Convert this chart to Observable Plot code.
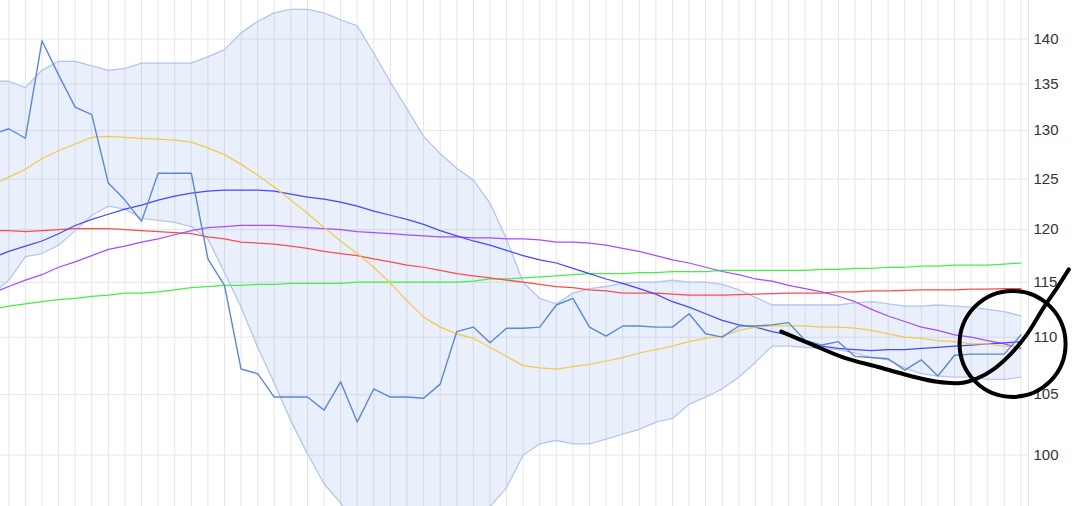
<!DOCTYPE html>
<html>
<head>
<meta charset="utf-8">
<script src="https://cdn.jsdelivr.net/npm/d3@7"></script>
<script src="https://cdn.jsdelivr.net/npm/@observablehq/plot@0.6"></script>
<style>
  html, body { margin: 0; padding: 0; background: #fff; }
  #chart svg { display: block; }
</style>
</head>
<body>
<div id="chart"></div>
<script>
// Trading days (index -1 is partly cut off at the left edge)
const days = d3.range(-1, 62);
const gridDays = d3.range(0, 62);
const yTicks = [100, 105, 110, 115, 120, 125, 130, 135, 140];

const price = [129.6, 130.2, 129.2, 139.8, 136.0, 132.5, 131.7, 124.6, 122.9, 120.8, 125.6, 125.6, 125.6, 117.2, 114.7, 107.2, 106.8, 104.8, 104.8, 104.8, 103.7, 106.1, 102.7, 105.5, 104.8, 104.8, 104.7, 105.9, 110.5, 110.9, 109.5, 110.8, 110.8, 110.9, 112.9, 113.5, 110.9, 110.1, 111.0, 111.0, 110.9, 110.9, 112.1, 110.3, 110.0, 111.0, 111.0, 111.1, 111.3, 109.7, 109.3, 109.6, 108.3, 108.2, 108.1, 107.1, 108.0, 106.6, 108.4, 108.5, 108.5, 108.5, 110.2];

const upper = [135.3, 135.3, 134.6, 136.5, 137.5, 137.5, 137.0, 136.5, 136.7, 137.3, 137.3, 137.3, 137.3, 138.0, 138.8, 140.7, 142.0, 143.0, 143.4, 143.4, 143.0, 142.2, 141.5, 138.4, 135.2, 132.3, 129.4, 127.6, 126.1, 124.9, 122.6, 119.1, 115.0, 113.5, 113.0, 114.0, 114.4, 114.6, 114.9, 115.0, 115.0, 115.2, 115.0, 115.0, 114.8, 114.3, 113.6, 112.9, 112.9, 112.9, 112.9, 112.9, 113.1, 113.2, 113.0, 112.8, 112.8, 112.9, 112.8, 112.7, 112.5, 112.3, 111.9];

const lower = [113.9, 115.2, 117.4, 117.7, 118.5, 119.9, 121.4, 122.3, 122.0, 121.1, 120.9, 120.7, 120.3, 119.1, 115.9, 112.7, 109.1, 106.0, 102.8, 100.1, 97.7, 96.2, 94.0, 92.0, 90.5, 89.8, 90.0, 91.0, 92.8, 94.5, 95.9, 97.4, 100.0, 100.9, 101.2, 100.9, 100.9, 101.3, 101.7, 102.1, 102.7, 103.0, 104.2, 104.8, 105.5, 106.5, 107.8, 109.2, 109.2, 109.1, 109.0, 108.9, 108.6, 108.2, 108.0, 107.3, 106.8, 106.6, 106.5, 106.5, 106.3, 106.3, 106.5];

const maYellow = [124.4, 125.2, 126.0, 127.1, 127.9, 128.6, 129.3, 129.4, 129.3, 129.2, 129.1, 129.0, 128.8, 128.2, 127.5, 126.5, 125.4, 124.2, 122.9, 121.6, 120.2, 118.9, 117.7, 116.4, 114.9, 113.3, 111.8, 110.9, 110.3, 109.9, 109.1, 108.3, 107.5, 107.3, 107.2, 107.4, 107.6, 107.9, 108.2, 108.6, 108.9, 109.2, 109.6, 109.9, 110.1, 110.6, 110.9, 111.0, 111.0, 111.0, 110.9, 110.9, 110.8, 110.6, 110.3, 110.0, 109.9, 109.7, 109.6, 109.4, 109.4, 109.2, 109.1];

const maBlue = [117.3, 117.9, 118.4, 118.9, 119.6, 120.4, 121.0, 121.5, 122.0, 122.4, 122.9, 123.3, 123.6, 123.8, 123.9, 123.9, 123.9, 123.8, 123.5, 123.2, 123.0, 122.7, 122.3, 121.8, 121.4, 121.0, 120.5, 119.9, 119.4, 118.9, 118.5, 118.0, 117.5, 117.1, 116.8, 116.3, 115.8, 115.3, 114.9, 114.4, 113.9, 113.2, 112.7, 112.1, 111.5, 111.1, 110.9, 110.5, 110.2, 109.6, 109.2, 109.0, 108.9, 108.8, 108.9, 108.9, 109.0, 109.1, 109.2, 109.3, 109.4, 109.5, 109.6];

const maPurple = [114.0, 114.6, 115.2, 115.7, 116.4, 116.9, 117.5, 118.1, 118.4, 118.8, 119.1, 119.5, 119.9, 120.2, 120.3, 120.4, 120.4, 120.4, 120.3, 120.2, 120.1, 120.0, 119.8, 119.7, 119.6, 119.5, 119.4, 119.3, 119.3, 119.2, 119.2, 119.1, 119.1, 119.0, 118.8, 118.8, 118.7, 118.5, 118.2, 117.9, 117.5, 117.1, 116.8, 116.4, 116.0, 115.7, 115.3, 115.1, 114.7, 114.4, 114.1, 113.7, 113.2, 112.5, 111.9, 111.4, 110.9, 110.6, 110.2, 110.0, 109.7, 109.4, 109.0];

const maRed = [119.9, 119.9, 119.8, 119.9, 120.0, 120.1, 120.1, 120.1, 120.0, 119.9, 119.8, 119.7, 119.6, 119.3, 119.1, 118.8, 118.7, 118.6, 118.4, 118.2, 117.9, 117.7, 117.5, 117.2, 116.9, 116.6, 116.4, 116.1, 115.8, 115.6, 115.4, 115.2, 115.0, 114.8, 114.6, 114.5, 114.3, 114.2, 114.0, 114.0, 114.0, 113.9, 113.8, 113.8, 113.8, 113.85, 113.9, 113.95, 114.0, 114.0, 114.0, 114.1, 114.1, 114.2, 114.2, 114.25, 114.3, 114.3, 114.3, 114.35, 114.35, 114.4, 114.4];

const maGreen = [112.5, 112.8, 113.0, 113.2, 113.4, 113.5, 113.7, 113.8, 114.0, 114.0, 114.1, 114.3, 114.5, 114.6, 114.7, 114.7, 114.8, 114.8, 114.9, 114.9, 114.9, 114.9, 115.0, 115.0, 115.0, 115.0, 115.0, 115.0, 115.0, 115.1, 115.3, 115.3, 115.4, 115.5, 115.6, 115.7, 115.8, 115.8, 115.8, 115.9, 115.9, 116.0, 116.0, 116.0, 116.1, 116.1, 116.1, 116.1, 116.1, 116.1, 116.2, 116.2, 116.3, 116.3, 116.4, 116.4, 116.5, 116.5, 116.6, 116.6, 116.6, 116.7, 116.8];

// Hand-drawn annotation (in day / price units)
const strokeDay = [46.56, 48.32, 50.33, 52.34, 54.35, 55.96, 57.37, 58.37, 59.37, 60.38, 61.39, 62.39, 63.19, 63.89];
const strokePrice = [110.5, 109.4, 108.2, 107.4, 106.6, 106.1, 106.0, 106.4, 107.2, 108.5, 110.3, 112.7, 114.5, 116.2];
const circleDay = [60.5];
const circlePrice = [109.4];

const rows = days.map((d, i) => ({
  day: d, price: price[i], upper: upper[i], lower: lower[i],
  yellow: maYellow[i], blue: maBlue[i], purple: maPurple[i], red: maRed[i], green: maGreen[i]
}));
const strokeRows = strokeDay.map((d, i) => ({day: d, price: strokePrice[i]}));
const circleRows = circleDay.map((d, i) => ({day: d, price: circlePrice[i]}));

const lineOpts = (key, color, w = 1.25) =>
  Plot.lineY(rows, {x: "day", y: key, stroke: color, strokeWidth: w, clip: true});

const chart = Plot.plot({
  width: 1085,
  height: 506,
  marginLeft: 0,
  marginRight: 57,
  marginTop: 0,
  marginBottom: 0,
  style: {fontFamily: "'Liberation Sans', Arial, sans-serif", fontSize: "15px", color: "#333", background: "#fff"},
  x: {domain: [-0.5, 61.46], axis: null},
  y: {type: "log", domain: [95.92, 144.43], axis: "right", ticks: yTicks, tickFormat: d => String(d), tickSize: 0, tickPadding: 5, label: null},
  marks: [
    Plot.ruleX(gridDays, {stroke: "#e6e6e6", strokeWidth: 1}),
    Plot.ruleY(yTicks, {stroke: "#e6e6e6", strokeWidth: 1}),
    Plot.frame({anchor: "right", stroke: "#e3e3e3"}),
    Plot.areaY(rows, {x: "day", y1: "lower", y2: "upper", fill: "#6495ed", fillOpacity: 0.14, clip: true}),
    lineOpts("upper", "#b3c6ee", 1.3),
    lineOpts("lower", "#b3c6ee", 1.3),
    lineOpts("green", "#45f045"),
    lineOpts("red", "#ff4a4a"),
    lineOpts("purple", "#a64dff"),
    lineOpts("blue", "#4747ff"),
    lineOpts("yellow", "#f4c94a"),
    lineOpts("price", "#5b87d6", 1.4),
    Plot.line(strokeRows, {x: "day", y: "price", stroke: "#000", strokeWidth: 4, curve: "catmull-rom", strokeLinecap: "round"}),
    Plot.dot(circleRows, {x: "day", y: "price", r: 53, stroke: "#000", strokeWidth: 4, fill: "none"})
  ]
});
document.getElementById("chart").appendChild(chart);
</script>
</body>
</html>
